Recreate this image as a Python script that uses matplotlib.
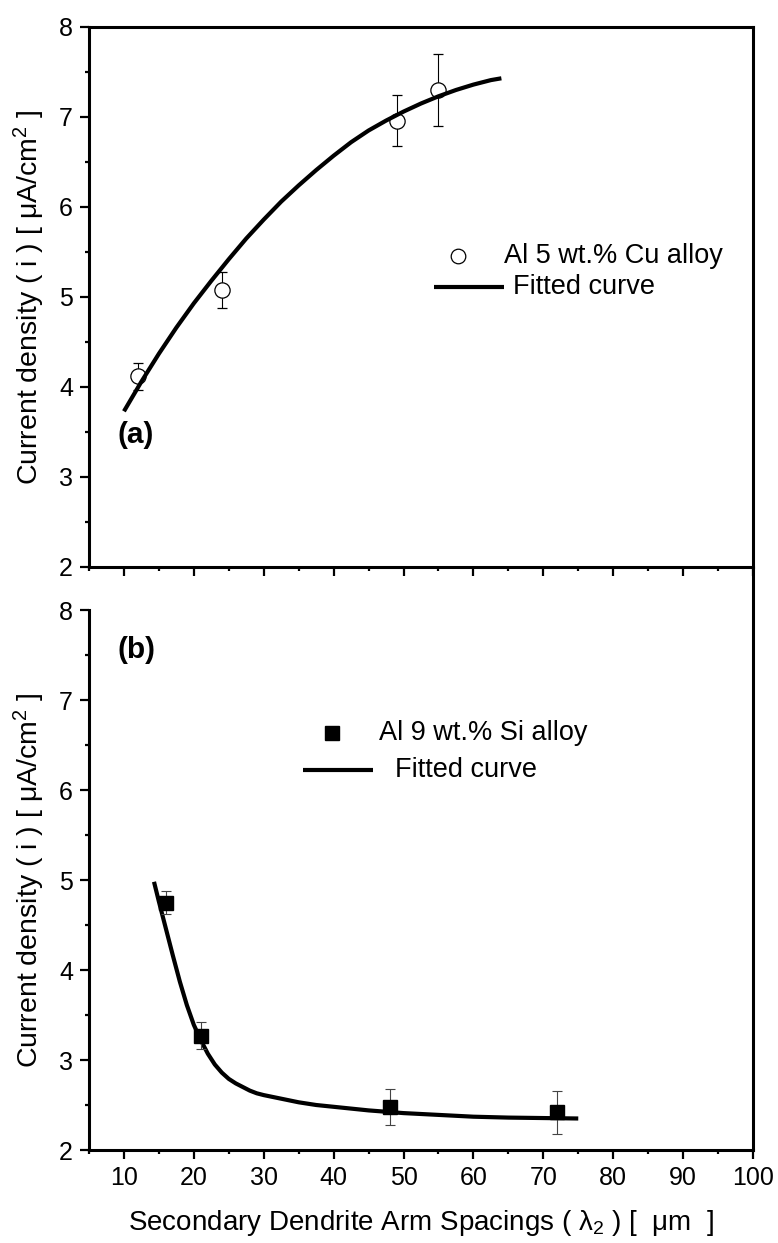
import matplotlib
matplotlib.use("Agg")
import matplotlib.pyplot as plt
from matplotlib.ticker import MultipleLocator

plt.rcParams['font.family'] = ['Liberation Sans', 'DejaVu Sans']
plt.rcParams['mathtext.fontset'] = 'custom'
plt.rcParams['mathtext.rm'] = 'Liberation Sans'
plt.rcParams['mathtext.it'] = 'Liberation Sans:italic'

# ---- data: panel (a) Al 5 wt.% Cu ----
cu_x = [12, 24, 49, 55]
cu_y = [4.12, 5.08, 6.96, 7.30]
cu_err = [0.15, 0.20, 0.28, 0.40]
cu_fit_x = [10, 12.5, 15, 17.5, 20, 22.5, 25, 27.5, 30, 32.5, 35, 37.5, 40,
            42.5, 45, 47.5, 50, 52.5, 55, 57.5, 60, 62.5, 64]
cu_fit_y = [3.73, 4.06, 4.37, 4.66, 4.93, 5.18, 5.42, 5.65, 5.86, 6.06, 6.24,
            6.41, 6.57, 6.72, 6.85, 6.96, 7.06, 7.15, 7.23, 7.30, 7.36, 7.41, 7.43]

# ---- data: panel (b) Al 9 wt.% Si ----
si_x = [16, 21, 48, 72]
si_y = [4.75, 3.27, 2.48, 2.42]
si_err = [0.13, 0.15, 0.20, 0.24]
si_fit_x = [14.3, 15, 16, 17, 18, 19, 20, 21, 22, 23, 24, 25, 26, 27, 28, 29,
            30, 32.5, 35, 37.5, 40, 45, 50, 55, 60, 65, 70, 75]
si_fit_y = [4.98, 4.76, 4.46, 4.16, 3.87, 3.61, 3.39, 3.22, 3.07, 2.95, 2.86,
            2.79, 2.74, 2.70, 2.66, 2.63, 2.61, 2.57, 2.53, 2.50, 2.48, 2.44,
            2.41, 2.39, 2.37, 2.36, 2.355, 2.35]

x_ticks = [10, 20, 30, 40, 50, 60, 70, 80, 90, 100]
y_ticks = [2, 3, 4, 5, 6, 7, 8]

labels_a = ['Al 5 wt.% Cu alloy', 'Fitted curve']
labels_b = ['Al 9 wt.% Si alloy', 'Fitted curve']

W, H = 778, 1243
fig = plt.figure(figsize=(W / 100, H / 100), dpi=100)
L, R = 89 / W, 753 / W
ax1 = fig.add_axes([L, 1 - 567 / H, R - L, 540 / H])
ax2 = fig.add_axes([L, 1 - 1150 / H, R - L, 540 / H])

TICK_FS = 18
LAB_FS = 20.5
LEG_FS = 19.5

for ax in (ax1, ax2):
    ax.set_xlim(5, 100)
    ax.set_ylim(2, 8)
    ax.set_xticks(x_ticks)
    ax.set_yticks(y_ticks)
    ax.xaxis.set_minor_locator(MultipleLocator(5))
    ax.yaxis.set_minor_locator(MultipleLocator(0.5))
    for s in ax.spines.values():
        s.set_linewidth(2.2)
    ax.tick_params(which='major', direction='out', length=6.5, width=1.6,
                   labelsize=TICK_FS, top=False, right=False, pad=5)
    ax.tick_params(which='minor', direction='out', length=3.2, width=1.6,
                   top=False, right=False)
    ax.set_ylabel('Current density ( i ) [ μA/cm$^{2}$ ]', fontsize=LAB_FS, labelpad=9)

ax1.tick_params(axis='x', which='both', labelbottom=False)
ax2.spines['top'].set_visible(False)


def legend_rows(ax, marker_kw, labels, mx, row1_y, tx1, lx0, lx1, row2_y, tx2):
    tr = ax.transAxes
    ax.plot([mx], [row1_y], transform=tr, ls='none', clip_on=False, **marker_kw)
    ax.text(tx1, row1_y, labels[0], transform=tr, fontsize=LEG_FS,
            va='center', ha='left')
    ax.plot([lx0, lx1], [row2_y, row2_y], transform=tr, color='black', lw=3,
            solid_capstyle='butt', clip_on=False)
    ax.text(tx2, row2_y, labels[1], transform=tr, fontsize=LEG_FS,
            va='center', ha='left')


# panel (a)
ax1.errorbar(cu_x, cu_y, yerr=cu_err, fmt='o', ms=11, mfc='white', mec='black',
             mew=0.9, ecolor='black', elinewidth=0.8, capsize=3.6, capthick=0.8,
             zorder=2)
ax1.plot(cu_fit_x, cu_fit_y, color='black', lw=3, zorder=3, solid_capstyle='butt')
ax1.text(9.1, 3.47, '(a)', fontsize=21.5, fontweight='bold', va='center', ha='left')
legend_rows(ax1, dict(marker='o', ms=10.5, mfc='white', mec='black', mew=0.9),
            labels_a, 0.5557, 0.5759, 0.6250, 0.5196, 0.6250, 0.5185, 0.6386)

# panel (b)
ax2.plot(si_fit_x, si_fit_y, color='black', lw=3, zorder=2, solid_capstyle='butt')
ax2.errorbar(si_x, si_y, yerr=si_err, fmt='s', ms=10.5, mfc='black', mec='black',
             ecolor='#444444', elinewidth=0.8, capsize=3.6, capthick=0.8, zorder=3)
ax2.text(9.1, 7.56, '(b)', fontsize=21.5, fontweight='bold', va='center', ha='left')
legend_rows(ax2, dict(marker='s', ms=10, mfc='black', mec='black'),
            labels_b, 0.3660, 0.7722, 0.4367, 0.3223, 0.4277, 0.7037, 0.4608)
ax2.spines['right'].set_bounds(2, 8.47)

ax2.set_xlabel('Secondary Dendrite Arm Spacings ( λ$_{2}$ ) [  μm  ]',
               fontsize=20, labelpad=13)

fig.savefig('out.png', dpi=100)
